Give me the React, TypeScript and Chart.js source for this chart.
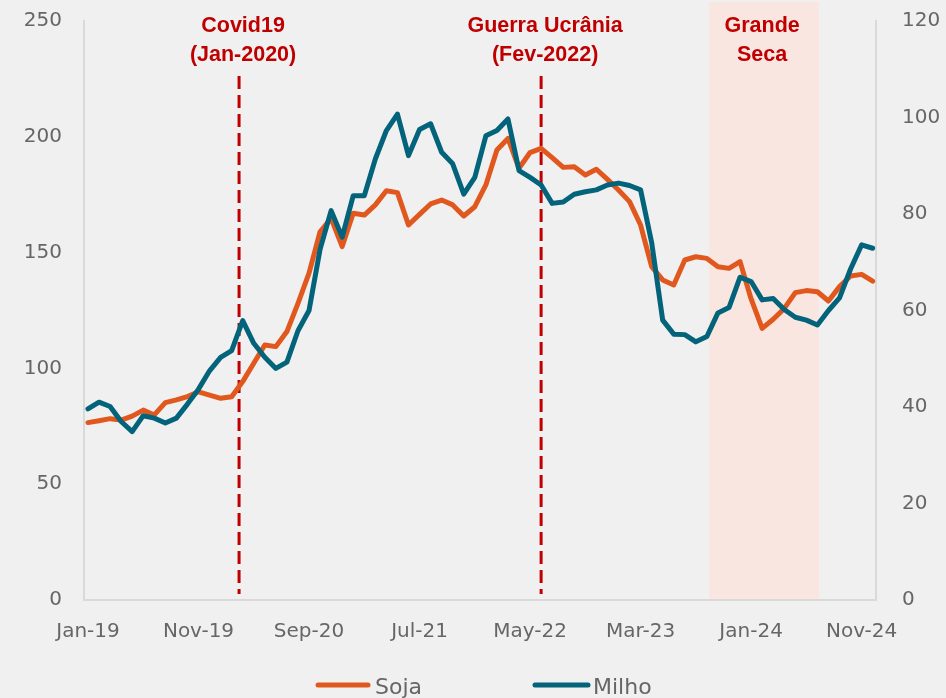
import React, { useEffect, useRef } from "react";
import { Chart, registerables } from "chart.js";

Chart.register(...registerables);

// Monthly series Jan-2019 .. Dec-2024
const monthNames = ["Jan", "Feb", "Mar", "Apr", "May", "Jun", "Jul", "Aug", "Sep", "Oct", "Nov", "Dec"];
const years = ["19", "20", "21", "22", "23", "24"];
const monthLabels: string[] = [];
years.forEach((y) => monthNames.forEach((m) => monthLabels.push(`${m}-${y}`)));

const xTickIndices = [0, 10, 20, 30, 40, 50, 60, 70];

const soja = [
  76.6, 77.4, 78.3, 77.7, 79.4, 82.0, 79.9, 85.2, 86.4, 87.8, 89.9, 88.5,
  87.1, 87.8, 94.3, 102.2, 110.1, 109.4, 115.9, 128.1, 141.1, 159.0, 164.8, 152.6,
  167.0, 166.2, 170.6, 176.7, 175.9, 161.9, 166.5, 171.0, 172.7, 170.6, 165.8, 169.8,
  179.2, 194.3, 199.3, 186.4, 193.2, 195.0, 191.0, 186.8, 187.1, 183.5, 186.0, 181.6,
  177.0, 172.0, 161.9, 143.9, 138.2, 136.0, 146.8, 148.2, 147.5, 143.9, 143.2, 146.1,
  130.0, 117.3, 121.2, 125.9, 132.7, 133.6, 133.1, 129.1, 135.3, 139.9, 140.6, 137.7,
];

const milho = [
  39.6, 41.0, 40.1, 37.0, 34.9, 38.2, 37.7, 36.7, 37.7, 40.6, 43.7, 47.5,
  50.3, 51.7, 57.9, 53.2, 50.3, 48.0, 49.3, 55.8, 60.0, 72.7, 80.7, 75.2,
  83.8, 83.8, 91.4, 97.3, 100.7, 92.1, 97.5, 98.7, 92.8, 90.4, 84.1, 87.6,
  96.2, 97.3, 99.7, 89.0, 87.6, 86.0, 82.2, 82.5, 84.1, 84.6, 85.0, 86.0,
  86.4, 85.9, 85.0, 74.1, 58.0, 55.1, 55.0, 53.5, 54.6, 59.5, 60.6, 66.9,
  66.0, 62.2, 62.5, 60.2, 58.6, 58.0, 57.0, 60.0, 62.6, 68.6, 73.6, 72.9,
];

const leftTicks = { min: 0, max: 250, step: 50 };
const rightTicks = { min: 0, max: 120, step: 20 };

// Event markers (in month-index units)
const eventLines = [
  { at: 13.67, lines: ["Covid19", "(Jan-2020)"] },
  { at: 41.0, lines: ["Guerra Ucrânia", "(Fev-2022)"] },
];
const droughtBand = { from: 56.2, to: 66.15, lines: ["Grande", "Seca"] };

const SOJA_COLOR = "#E0581E";
const MILHO_COLOR = "#03637A";
const RED = "#C00000";
const TICK_COLOR = "#666666";
const AXIS_COLOR = "#D9D9D9";

export default function App() {
  const ref = useRef<HTMLCanvasElement | null>(null);

  useEffect(() => {
    document.body.style.margin = "0";
    const canvas = ref.current!;
    const annotPlugin = {
      id: "annot",
      beforeDraw(chart: any) {
        const { ctx, width, height } = chart;
        ctx.save();
        ctx.fillStyle = "#F0F0F0";
        ctx.fillRect(0, 0, width, height);
        ctx.restore();
      },
      beforeDatasetsDraw(chart: any) {
        const { ctx, chartArea } = chart;
        const xs = chart.scales.x;
        ctx.save();
        // drought band
        const x0 = xs.getPixelForValue(droughtBand.from);
        const x1 = xs.getPixelForValue(droughtBand.to);
        ctx.fillStyle = "#F9E6E0";
        ctx.fillRect(x0, 2, x1 - x0, chartArea.bottom - 3);
        // dashed event lines
        ctx.strokeStyle = RED;
        ctx.lineWidth = 3;
        ctx.setLineDash([13, 6]);
        eventLines.forEach((e) => {
          const x = xs.getPixelForValue(e.at);
          ctx.beginPath();
          ctx.moveTo(x, 76);
          ctx.lineTo(x, chartArea.bottom - 6);
          ctx.stroke();
        });
        ctx.setLineDash([]);
        // labels
        ctx.fillStyle = RED;
        ctx.font = "bold 21.5px 'Liberation Sans', Arial, sans-serif";
        ctx.textAlign = "center";
        ctx.textBaseline = "middle";
        eventLines.forEach((e) => {
          const x = xs.getPixelForValue(e.at) + 4;
          ctx.fillText(e.lines[0], x, 26);
          ctx.fillText(e.lines[1], x, 55);
        });
        const xc = (x0 + x1) / 2 - 2;
        ctx.fillText(droughtBand.lines[0], xc, 26);
        ctx.fillText(droughtBand.lines[1], xc, 55);
        ctx.restore();
      },
      afterDraw(chart: any) {
        const { ctx } = chart;
        const items = [
          { label: "Soja", color: SOJA_COLOR, x0: 318, x1: 368, tx: 375 },
          { label: "Milho", color: MILHO_COLOR, x0: 535, x1: 588, tx: 593 },
        ];
        ctx.save();
        ctx.font = "22px 'DejaVu Sans', sans-serif";
        ctx.textBaseline = "middle";
        ctx.textAlign = "left";
        items.forEach((it) => {
          ctx.strokeStyle = it.color;
          ctx.lineWidth = 5;
          ctx.lineCap = "round";
          ctx.beginPath();
          ctx.moveTo(it.x0, 685);
          ctx.lineTo(it.x1, 685);
          ctx.stroke();
          ctx.fillStyle = TICK_COLOR;
          ctx.fillText(it.label, it.tx, 688);
        });
        ctx.restore();
      },
    };

    const tickFont = { family: "'DejaVu Sans', sans-serif", size: 20 };
    const fitY = (w: number) => (s: any) => {
      s.width = w;
      s.paddingTop = 0;
      s.paddingBottom = 0;
    };

    const chart = new Chart(canvas, {
      type: "line",
      data: {
        datasets: [
          {
            label: "Soja",
            data: soja.map((v, i) => ({ x: i, y: v })),
            borderColor: SOJA_COLOR,
            backgroundColor: SOJA_COLOR,
            borderWidth: 5,
            yAxisID: "y",
            order: 1,
          },
          {
            label: "Milho",
            data: milho.map((v, i) => ({ x: i, y: v })),
            borderColor: MILHO_COLOR,
            backgroundColor: MILHO_COLOR,
            borderWidth: 5,
            yAxisID: "y1",
            order: 0,
          },
        ],
      },
      options: {
        animation: false,
        responsive: false,
        layout: { padding: { top: 21, left: 0, right: 0, bottom: 0 } },
        elements: {
          point: { radius: 0, hoverRadius: 0 },
          line: { tension: 0, borderJoinStyle: "round", borderCapStyle: "round" },
        },
        plugins: { legend: { display: false }, tooltip: { enabled: false } },
        scales: {
          x: {
            type: "linear",
            min: -0.36,
            max: 71.3,
            grid: { display: false, drawTicks: false },
            border: { display: true, color: AXIS_COLOR, width: 2 },
            ticks: {
              autoSkip: false,
              maxRotation: 0,
              padding: 20,
              color: TICK_COLOR,
              font: tickFont,
              callback: (v: any) => monthLabels[Math.round(Number(v))] ?? "",
            },
            afterBuildTicks: (s: any) => {
              s.ticks = xTickIndices.map((v) => ({ value: v }));
            },
            afterFit: (s: any) => {
              s.height = 98;
              s.paddingLeft = 0;
              s.paddingRight = 0;
            },
          },
          y: {
            position: "left",
            min: leftTicks.min,
            max: leftTicks.max,
            grid: { display: false, drawTicks: false },
            border: { display: true, color: AXIS_COLOR, width: 2 },
            ticks: { stepSize: leftTicks.step, padding: 22, color: TICK_COLOR, font: tickFont },
            afterFit: fitY(84),
          },
          y1: {
            position: "right",
            min: rightTicks.min,
            max: rightTicks.max,
            grid: { display: false, drawTicks: false },
            border: { display: true, color: AXIS_COLOR, width: 2 },
            ticks: { stepSize: rightTicks.step, padding: 26, color: TICK_COLOR, font: tickFont },
            afterFit: fitY(70),
          },
        },
      },
      plugins: [annotPlugin],
    } as any);
    return () => chart.destroy();
  }, []);

  return (
    <div style={{ position: "fixed", left: 0, top: 0, width: 946, height: 698 }}>
      <canvas ref={ref} width={946} height={698} style={{ width: 946, height: 698 }} />
    </div>
  );
}
